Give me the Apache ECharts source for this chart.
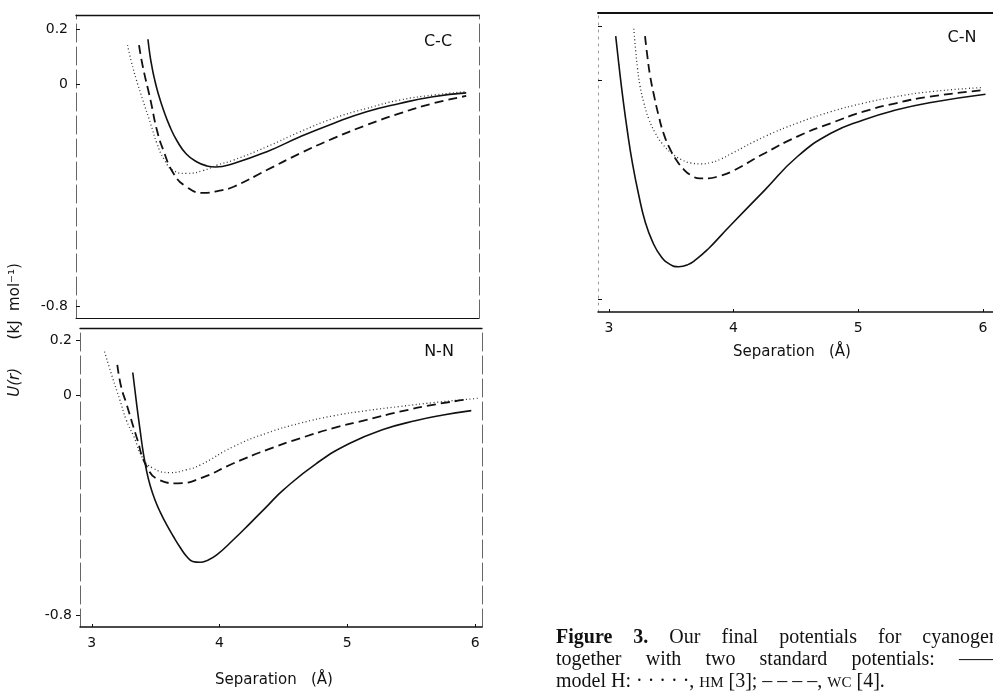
<!DOCTYPE html>
<html>
<head>
<meta charset="utf-8">
<script src="https://cdn.jsdelivr.net/npm/echarts@6/dist/echarts.min.js"></script>
<style>
  html, body { margin: 0; padding: 0; background: #fff; overflow: hidden; }
  #main { position: absolute; left: 0; top: 0; width: 993px; height: 692px; }
  #caption { position: absolute; left: 556px; top: 625px; font-family: "Liberation Serif", serif; font-size: 20px; line-height: 22px; color: #111; }
  #caption .ln { width: 443px; white-space: nowrap; text-align: justify; text-align-last: justify; }
  #caption .last { white-space: nowrap; }
  .sc { font-size: 15px; }
</style>
</head>
<body>
<div id="main"></div>
<div id="caption">
  <div class="ln"><b>Figure 3.</b> Our final potentials for cyanogen</div>
  <div class="ln">together with two standard potentials: ——</div>
  <div class="last">model H: · · · · ·, <span class="sc">HM</span> [3]; – – – –, <span class="sc">WC</span> [4].</div>
</div>
<script>
// separation r (Å), potential U(r) (kJ mol-1)
var xTicks = [3, 4, 5, 6];
var yTicks = [-0.8, 0, 0.2];
var panelNames = ['C-C', 'N-N', 'C-N'];

// C-C
var ccModelH = [[3.44,0.163],[3.455,0.108],[3.47,0.067],[3.49,0.022],[3.52,-0.032],[3.56,-0.09],[3.61,-0.15],[3.67,-0.205],[3.74,-0.25],[3.82,-0.278],[3.90,-0.293],[3.97,-0.297],[4.11,-0.284],[4.37,-0.242],[4.63,-0.188],[4.89,-0.140],[5.15,-0.098],[5.41,-0.068],[5.67,-0.044],[5.93,-0.030]];
var ccHM = [[3.28,0.142],[3.31,0.082],[3.35,0.016],[3.40,-0.056],[3.46,-0.14],[3.51,-0.212],[3.57,-0.272],[3.64,-0.310],[3.74,-0.320],[3.87,-0.310],[3.98,-0.29],[4.11,-0.272],[4.37,-0.224],[4.63,-0.170],[4.89,-0.122],[5.15,-0.086],[5.41,-0.056],[5.67,-0.038],[5.93,-0.026]];
var ccWC = [[3.37,0.142],[3.40,0.064],[3.46,-0.056],[3.51,-0.164],[3.56,-0.236],[3.64,-0.320],[3.74,-0.368],[3.87,-0.390],[4.00,-0.382],[4.11,-0.368],[4.37,-0.308],[4.63,-0.248],[4.89,-0.194],[5.15,-0.146],[5.41,-0.104],[5.67,-0.068],[5.93,-0.041]];

// N-N
var nnModelH = [[3.321,0.084],[3.352,-0.034],[3.378,-0.125],[3.404,-0.211],[3.430,-0.277],[3.456,-0.326],[3.495,-0.381],[3.534,-0.423],[3.587,-0.472],[3.639,-0.514],[3.691,-0.553],[3.743,-0.587],[3.790,-0.605],[3.847,-0.608],[3.900,-0.602],[3.978,-0.581],[4.108,-0.526],[4.239,-0.466],[4.369,-0.405],[4.50,-0.344],[4.76,-0.247],[5.02,-0.174],[5.28,-0.124],[5.54,-0.091],[5.75,-0.071],[5.97,-0.055]];
var nnHM = [[3.10,0.160],[3.16,0.069],[3.22,-0.016],[3.27,-0.089],[3.33,-0.150],[3.40,-0.229],[3.48,-0.265],[3.61,-0.281],[3.74,-0.271],[3.85,-0.253],[4.11,-0.186],[4.37,-0.137],[4.63,-0.101],[4.89,-0.074],[5.15,-0.055],[5.41,-0.040],[5.67,-0.026],[6.03,-0.010]];
var nnWC = [[3.20,0.112],[3.23,0.032],[3.27,-0.028],[3.35,-0.150],[3.43,-0.259],[3.53,-0.308],[3.67,-0.320],[3.85,-0.302],[4.11,-0.247],[4.37,-0.198],[4.63,-0.156],[4.89,-0.119],[5.15,-0.089],[5.41,-0.059],[5.67,-0.034],[5.91,-0.016]];

// C-N
var cnModelH = [[3.055,0.163],[3.08,0.06],[3.11,-0.055],[3.15,-0.19],[3.19,-0.305],[3.24,-0.42],[3.29,-0.515],[3.35,-0.59],[3.42,-0.645],[3.49,-0.673],[3.56,-0.682],[3.63,-0.675],[3.70,-0.655],[3.80,-0.615],[3.90,-0.567],[3.98,-0.528],[4.25,-0.401],[4.51,-0.279],[4.78,-0.193],[5.04,-0.144],[5.30,-0.108],[5.57,-0.081],[6.02,-0.050]];
var cnHM = [[3.20,0.19],[3.215,0.11],[3.23,0.045],[3.25,-0.02],[3.28,-0.08],[3.32,-0.14],[3.37,-0.19],[3.43,-0.232],[3.50,-0.265],[3.58,-0.289],[3.66,-0.302],[3.74,-0.305],[3.82,-0.300],[3.90,-0.287],[3.98,-0.268],[4.25,-0.205],[4.51,-0.156],[4.78,-0.114],[5.04,-0.083],[5.30,-0.059],[5.57,-0.041],[6.00,-0.025]];
var cnWC = [[3.29,0.163],[3.31,0.085],[3.33,0.02],[3.36,-0.05],[3.40,-0.13],[3.44,-0.195],[3.49,-0.25],[3.54,-0.29],[3.60,-0.325],[3.66,-0.347],[3.73,-0.358],[3.80,-0.358],[3.88,-0.35],[3.98,-0.334],[4.25,-0.266],[4.51,-0.205],[4.78,-0.156],[5.04,-0.114],[5.30,-0.083],[5.57,-0.059],[6.02,-0.034]];

var chart = echarts.init(document.getElementById('main'));

var font = 'DejaVu Sans';
var ink = '#111';

// panel frames
var grids = [
  { left: 76, top: 15, width: 403, height: 303 },
  { left: 80, top: 328, width: 402, height: 299 },
  { left: 598, top: 13, width: 400, height: 299 }
];
var xRange = [[2.877, 6.03], [2.908, 6.054], [2.913, 6.08]];
var yRange = [[-0.8407, 0.2504], [-0.844, 0.2463], [-0.8476, 0.2476]];

var xAxes = [], yAxes = [];
grids.forEach(function (g, i) {
  // bottom axis
  xAxes.push({
    type: 'value', gridIndex: i, position: 'bottom', min: xRange[i][0], max: xRange[i][1],
    splitLine: { show: false },
    axisLine: { show: true, onZero: false, lineStyle: { color: ink, width: i == 0 ? 1 : 1.5 } },
    axisTick: { show: i > 0, inside: true, length: 3, customValues: xTicks, lineStyle: { color: ink } },
    axisLabel: { show: i > 0, customValues: xTicks, margin: 9, fontFamily: font, fontSize: 14, color: ink }
  });
  // top edge
  xAxes.push({
    type: 'value', gridIndex: i, position: 'top', min: xRange[i][0], max: xRange[i][1],
    splitLine: { show: false }, axisTick: { show: false }, axisLabel: { show: false },
    axisLine: { show: true, onZero: false, lineStyle: { color: ink, width: i == 2 ? 2 : 1.3 } }
  });
  yAxes.push({
    type: 'value', gridIndex: i, position: 'left', min: yRange[i][0], max: yRange[i][1],
    splitLine: { show: false },
    axisLine: { show: true, onZero: false, lineStyle: { color: i == 2 ? '#999' : '#666', width: 1, type: i == 2 ? [2, 5] : [18, 5] } },
    axisTick: { show: true, inside: i != 1, length: 4, customValues: yTicks, lineStyle: { color: ink } },
    axisLabel: { show: i < 2, customValues: yTicks, margin: 8, fontFamily: font, fontSize: 14, color: ink }
  });
  // right edge
  yAxes.push({
    type: 'value', gridIndex: i, position: 'right', min: yRange[i][0], max: yRange[i][1],
    splitLine: { show: false }, axisTick: { show: false }, axisLabel: { show: false },
    axisLine: { show: i < 2, onZero: false, lineStyle: { color: '#666', width: 1, type: [18, 5] } }
  });
});

function curve(name, data, grid, kind) {
  var ls = { color: ink, width: 1.6, type: 'solid' };
  if (kind == 'HM') ls = { color: '#333', width: 1.3, type: [1, 2.6] };
  if (kind == 'WC') ls = { color: ink, width: 1.8, type: [9, 5] };
  return {
    name: name, type: 'line', data: data,
    xAxisIndex: grid * 2, yAxisIndex: grid * 2,
    showSymbol: false, smooth: 0.5,
    lineStyle: ls, silent: true, animation: false
  };
}

var series = [
  curve('model H', ccModelH, 0, 'H'), curve('HM', ccHM, 0, 'HM'), curve('WC', ccWC, 0, 'WC'),
  curve('model H', nnModelH, 1, 'H'), curve('HM', nnHM, 1, 'HM'), curve('WC', nnWC, 1, 'WC'),
  curve('model H', cnModelH, 2, 'H'), curve('HM', cnHM, 2, 'HM'), curve('WC', cnWC, 2, 'WC')
];

function label(text, x, y, extra) {
  return {
    type: 'text', x: x, y: y, rotation: extra && extra.rot || 0,
    style: Object.assign({ text: text, fontFamily: font, fontSize: 15, fill: ink, align: 'center', verticalAlign: 'middle' }, extra && extra.style)
  };
}

chart.setOption({
  animation: false,
  grid: grids,
  xAxis: xAxes,
  yAxis: yAxes,
  series: series,
  graphic: [
    label(panelNames[0], 438, 42, { style: { fontSize: 16 } }),
    label(panelNames[1], 439, 352, { style: { fontSize: 16 } }),
    label(panelNames[2], 962, 38, { style: { fontSize: 16 } }),
    label('Separation   (Å)', 274, 680),
    label('Separation   (Å)', 792, 352),
    label('{it|U(r)}      (kJ  mol⁻¹)', 15, 330, {
      rot: Math.PI / 2,
      style: { rich: { it: { fontStyle: 'italic', fontFamily: font, fontSize: 15, fill: ink } } }
    })
  ]
});
</script>
</body>
</html>
